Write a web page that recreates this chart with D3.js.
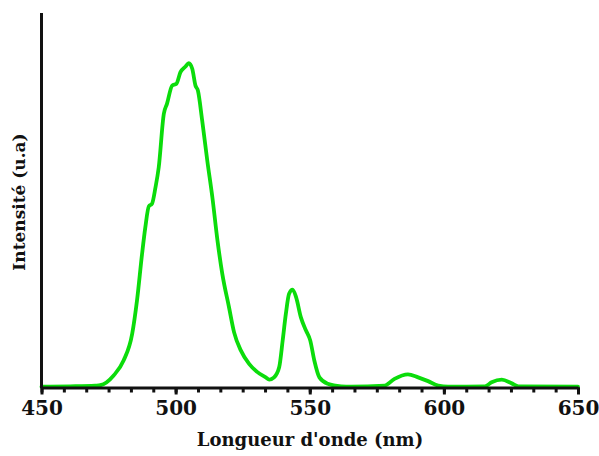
<!DOCTYPE html>
<html>
<head>
<meta charset="utf-8">
<script src="https://cdn.jsdelivr.net/npm/d3@7"></script>
<style>
  html, body { margin: 0; padding: 0; background: #fff; }
  svg { display: block; }
</style>
</head>
<body>
<svg id="chart" width="599" height="456"></svg>
<script>
// Wavelength (nm)
const wavelengths = [450, 460.7, 470.0, 471.9, 476.9, 480.6, 483.8, 485.6, 487.5, 488.7, 490.0, 491.2, 492.5, 493.7,
  495.6, 496.8, 498.7, 500.3, 501.8, 503.7, 504.9, 506.2, 507.4, 508.3, 509.9, 511.8, 513.7, 515.6, 517.4,
  519.9, 521.8, 524.3, 527.4, 530.5, 533.6, 534.9, 536.7, 538.6, 539.9, 541.1, 542.3, 543.6, 544.9, 546.7,
  548.6, 550.2, 551.7, 553.6, 556.7, 561.7, 565.4, 577.9, 581.6, 586.6, 590.4, 594.1, 597.9, 601.6, 615.3,
  617.8, 621.6, 625.3, 627.8, 650];
// Intensity (a.u.)
const intensities = [0.2, 0.3, 0.5, 0.6, 3.2, 7.2, 14.3, 23.2, 35.7, 42.7, 48.3, 49.0, 53.4, 58.7,
  73.0, 75.7, 80.5, 81.0, 84.1, 85.6, 86.5, 85.0, 80.5, 79.2, 71.2, 60.5, 50.7, 39.2, 30.3,
  21.4, 14.7, 9.9, 6.3, 4.1, 2.7, 2.1, 2.7, 5.4, 12.5, 19.7, 25.0, 26.1, 24.1, 18.7,
  15.2, 12.5, 7.2, 2.7, 1.0, 0.3, 0.2, 0.5, 2.3, 3.5, 2.7, 1.7, 0.5, 0.2, 0.3,
  1.4, 2.1, 1.1, 0.3, 0.2];
const xTickLabels = [450, 500, 550, 600, 650];
const xDomain = [450, 650];
const yDomain = [0, 100];

const svg = d3.select("#chart");
const x = d3.scaleLinear().domain(xDomain).range([41.5, 578]);
const y = d3.scaleLinear().domain(yDomain).range([387.5, 12.5]);

const data = wavelengths.map((w, i) => ({ w, v: intensities[i] }));

// curve
svg.append("path")
  .datum(data)
  .attr("fill", "none")
  .attr("stroke", "#0bdc0b")
  .attr("stroke-width", 3.8)
  .attr("stroke-linejoin", "round")
  .attr("stroke-linecap", "round")
  .attr("d", d3.line().x(d => x(d.w)).y(d => y(d.v)).curve(d3.curveMonotoneX));

// minor ticks every 50/6 nm
const minorTicks = d3.range(0, 25).map(i => xDomain[0] + i * 50 / 6).filter(v => v <= 650.01);
const minorAxis = d3.axisBottom(x).tickValues(minorTicks).tickSize(5).tickFormat("");
const gMinor = svg.append("g").attr("transform", `translate(0,${y(0)})`).call(minorAxis);
gMinor.select(".domain").remove();
gMinor.selectAll("line").attr("stroke", "#111").attr("stroke-width", 3);

// major axis
const xAxis = d3.axisBottom(x).tickValues(xTickLabels).tickSize(7).tickSizeOuter(0).tickPadding(6).tickFormat(d3.format("d"));
const gx = svg.append("g").attr("transform", `translate(0,${y(0)})`).call(xAxis);
gx.select(".domain").attr("stroke", "#111").attr("stroke-width", 3);
gx.selectAll("line").attr("stroke", "#111").attr("stroke-width", 3);
gx.selectAll("text")
  .attr("fill", "#111")
  .style("font-family", "'DejaVu Serif', serif")
  .style("font-weight", "bold")
  .style("font-size", "20px");

// y axis: line only
const yAxis = d3.axisLeft(y).tickValues([]).tickSizeOuter(0);
const gy = svg.append("g").attr("transform", `translate(${x(450) - 0.5},0)`).call(yAxis);
gy.select(".domain").attr("stroke", "#111").attr("stroke-width", 3);

// titles
svg.append("text")
  .attr("x", 310).attr("y", 446)
  .attr("text-anchor", "middle")
  .attr("fill", "#111")
  .style("font-family", "'DejaVu Serif', serif")
  .style("font-weight", "bold")
  .style("font-size", "18px")
  .text("Longueur d'onde (nm)");

svg.append("text")
  .attr("transform", "translate(25,202) rotate(-90)")
  .attr("text-anchor", "middle")
  .attr("fill", "#111")
  .style("font-family", "'DejaVu Serif', serif")
  .style("font-weight", "bold")
  .style("font-size", "17px")
  .text("Intensité (u.a)");
</script>
</body>
</html>
